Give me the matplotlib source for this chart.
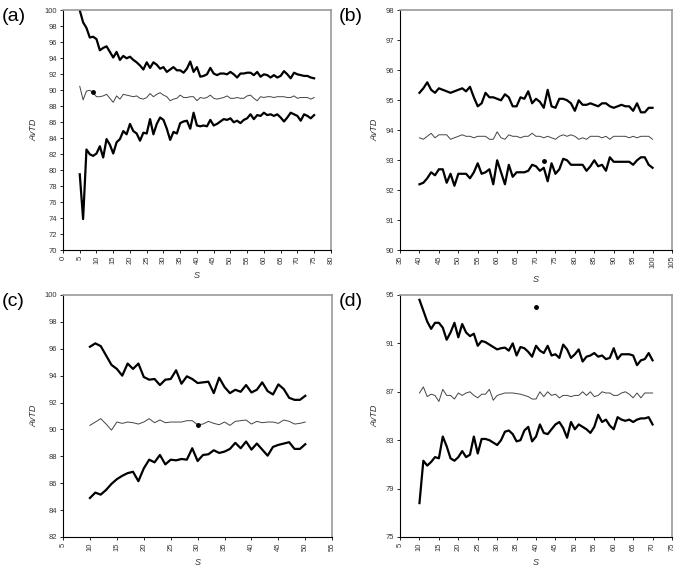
import matplotlib
matplotlib.use('Agg')
import matplotlib.pyplot as plt
import numpy as np

plt.rcParams['font.family'] = ['Liberation Sans', 'DejaVu Sans']

# panel (a)
s_a = np.arange(5, 76)
up_a = [100, 98.5, 97.8, 96.6, 96.7, 96.4, 95.0, 95.3, 95.5, 94.8, 94.1, 94.8, 93.8, 94.3, 94.0, 94.2,
        93.8, 93.5, 93.1, 92.6, 93.5, 92.8, 93.5, 93.2, 92.7, 92.9, 92.3, 92.6, 92.9, 92.5, 92.5, 92.2,
        92.7, 93.6, 92.3, 92.9, 91.7, 91.8, 92.0, 92.8, 92.1, 91.9, 92.1, 92.1, 92.0, 92.3, 92.0, 91.6,
        92.1, 92.1, 92.2, 92.2, 91.9, 92.3, 91.7, 92.0, 91.9, 91.6, 91.9, 91.6, 91.8, 92.4, 92.0, 91.5,
        92.2, 92.0, 91.9, 91.8, 91.8, 91.6, 91.5]
mid_a = [90.5, 88.8, 89.9, 90.0, 89.7, 89.2, 89.2, 89.3, 89.5, 89.0, 88.5, 89.3, 88.9, 89.5, 89.4, 89.3,
         89.2, 89.3, 89.0, 88.9, 89.1, 89.6, 89.2, 89.5, 89.7, 89.4, 89.2, 88.7, 88.9, 89.0, 89.4, 89.1,
         89.1, 89.2, 89.2, 88.7, 89.1, 89.0, 89.1, 89.4, 89.0, 88.9, 89.0, 89.1, 89.3, 89.0, 89.0, 89.1,
         89.0, 89.0, 89.3, 89.4, 89.0, 88.7, 89.2, 89.1, 89.2, 89.2, 89.1, 89.2, 89.2, 89.2, 89.1, 89.1,
         89.3, 89.0, 89.1, 89.1, 89.1, 88.9, 89.1]
low_a = [79.5, 73.9, 82.6, 82.0, 81.8, 82.1, 83.0, 81.6, 83.9, 83.2, 82.1, 83.5, 83.9, 84.9, 84.5, 85.8,
         84.9, 84.6, 83.7, 84.7, 84.6, 86.4, 84.5, 85.8, 86.6, 86.3, 85.2, 83.8, 84.8, 84.6, 85.9, 86.1,
         86.2, 85.2, 87.2, 85.6, 85.5, 85.6, 85.5, 86.3, 85.6, 85.8, 86.1, 86.4, 86.3, 86.5, 86.0, 86.2,
         85.9, 86.3, 86.5, 87.0, 86.4, 86.9, 86.8, 87.2, 86.9, 87.0, 86.8, 87.0, 86.6, 86.1, 86.6, 87.2,
         87.0, 86.8, 86.2, 87.0, 86.8, 86.5, 86.9]
dot_a = (9, 89.8)

# panel (b)
s_b = np.arange(40, 101)
up_b = [95.25, 95.4, 95.6, 95.35, 95.25, 95.4, 95.35, 95.3, 95.25, 95.3, 95.35, 95.4, 95.3, 95.45, 95.1,
        94.8, 94.9, 95.25, 95.1, 95.1, 95.05, 95.0, 95.2, 95.1, 94.8, 94.8, 95.1, 95.05, 95.3, 94.9, 95.05,
        94.95, 94.75, 95.35, 94.8, 94.75, 95.05, 95.05, 95.0, 94.9, 94.65, 95.0, 94.85, 94.85, 94.9, 94.85,
        94.8, 94.9, 94.9, 94.8, 94.75, 94.8, 94.85, 94.8, 94.8, 94.65, 94.9, 94.6, 94.6, 94.75, 94.75]
mid_b = [93.75, 93.7, 93.8, 93.9, 93.75, 93.85, 93.85, 93.85, 93.7, 93.75, 93.8, 93.85, 93.8, 93.8, 93.75,
         93.8, 93.8, 93.8, 93.7, 93.7, 93.95, 93.75, 93.7, 93.85, 93.8, 93.8, 93.75, 93.8, 93.8, 93.9, 93.8,
         93.8, 93.75, 93.8, 93.75, 93.7, 93.8, 93.85, 93.8, 93.85, 93.8, 93.7, 93.75, 93.7, 93.8, 93.8,
         93.8, 93.75, 93.8, 93.7, 93.8, 93.8, 93.8, 93.8, 93.75, 93.8, 93.75, 93.8, 93.8, 93.8, 93.7]
low_b = [92.2, 92.25, 92.4, 92.6, 92.5, 92.7, 92.7, 92.25, 92.55, 92.15, 92.55, 92.55, 92.55, 92.4, 92.6,
         92.9, 92.55, 92.6, 92.7, 92.2, 93.0, 92.6, 92.2, 92.85, 92.45, 92.6, 92.6, 92.6, 92.65, 92.85, 92.8,
         92.65, 92.75, 92.3, 92.9, 92.55, 92.7, 93.05, 93.0, 92.85, 92.85, 92.85, 92.85, 92.65, 92.8, 93.0,
         92.8, 92.85, 92.65, 93.1, 92.95, 92.95, 92.95, 92.95, 92.95, 92.85, 93.0, 93.1, 93.1, 92.85, 92.75]
dot_b = (72, 92.97)

# panel (c)
s_c = np.arange(10, 51)
up_c = [96.15, 96.4, 96.2, 95.5, 94.8, 94.5, 94.0, 94.9, 94.5, 94.9, 93.9, 93.7, 93.75, 93.3, 93.7, 93.75,
        94.4, 93.4, 93.95, 93.75, 93.45, 93.5, 93.55, 92.7, 93.85, 93.15, 92.7, 92.95, 92.8, 93.3, 92.75,
        92.95, 93.5, 92.85, 92.6, 93.35, 93.0, 92.35, 92.2, 92.2, 92.5]
mid_c = [90.3, 90.55, 90.8, 90.4, 89.95, 90.55, 90.45, 90.55, 90.5, 90.4, 90.55, 90.8, 90.5, 90.7, 90.5,
         90.55, 90.55, 90.55, 90.65, 90.65, 90.35, 90.4, 90.6, 90.45, 90.35, 90.55, 90.3, 90.6, 90.65, 90.7,
         90.4, 90.6, 90.5, 90.55, 90.55, 90.45, 90.7, 90.6, 90.4, 90.45, 90.55]
low_c = [84.9, 85.3, 85.15, 85.5, 85.95, 86.3, 86.55, 86.75, 86.85, 86.15, 87.1, 87.75, 87.55, 88.1, 87.4,
         87.75, 87.7, 87.8, 87.75, 88.6, 87.65, 88.1, 88.15, 88.45, 88.25, 88.35, 88.55, 89.0, 88.6, 89.1,
         88.5, 88.95, 88.5, 88.05, 88.7, 88.85, 88.95, 89.05, 88.55, 88.55, 88.9]
dot_c = (30, 90.35)

# panel (d)
s_d = np.arange(10, 71)
up_d = [94.6, 93.7, 92.8, 92.2, 92.7, 92.7, 92.3, 91.3, 91.9, 92.7, 91.5, 92.6, 91.9, 91.6, 91.8, 90.8,
        91.2, 91.1, 90.9, 90.7, 90.5, 90.6, 90.65, 90.4, 91.0, 90.0, 90.7, 90.6, 90.3, 89.9, 90.8, 90.4,
        90.2, 90.8, 90.0, 90.1, 89.8, 90.9, 90.5, 89.8, 90.1, 90.5, 89.5, 89.9, 90.0, 90.2, 89.9, 90.0,
        89.7, 89.8, 90.6, 89.7, 90.1, 90.1, 90.1, 90.0, 89.2, 89.6, 89.7, 90.2, 89.6]
mid_d = [86.9, 87.4, 86.6, 86.8, 86.7, 86.2, 87.2, 86.7, 86.7, 86.4, 86.9, 86.7, 86.9, 87.0, 86.7, 86.5,
         86.8, 86.8, 87.2, 86.3, 86.7, 86.8, 86.9, 86.9, 86.9, 86.85, 86.8, 86.7, 86.6, 86.4, 86.4, 87.0,
         86.6, 87.0, 86.7, 86.8, 86.5, 86.7, 86.7, 86.6, 86.7, 86.7, 87.0, 86.7, 87.0, 86.6, 86.7, 87.0,
         86.9, 86.9, 86.7, 86.7, 86.9, 87.0, 86.8, 86.5, 86.9, 86.5, 86.9, 86.9, 86.9]
low_d = [77.8, 81.3, 80.9, 81.2, 81.6, 81.5, 83.3, 82.5, 81.5, 81.3, 81.6, 82.1, 81.6, 81.8, 83.3, 81.9,
         83.1, 83.1, 83.0, 82.8, 82.6, 83.0, 83.7, 83.8, 83.5, 82.9, 83.0, 83.8, 84.1, 82.9, 83.3, 84.3,
         83.6, 83.5, 83.9, 84.3, 84.5, 84.0, 83.2, 84.5, 83.9, 84.3, 84.1, 83.9, 83.6, 84.1, 85.1, 84.5,
         84.7, 84.2, 83.9, 84.9, 84.7, 84.6, 84.7, 84.5, 84.7, 84.8, 84.8, 84.9, 84.3]
dot_d = (40, 94.0)

panels = [
    ('(a)', s_a, up_a, mid_a, low_a, dot_a, (0, 80, 5), (70, 100, 2), [0.092, 0.564, 0.391, 0.418]),
    ('(b)', s_b, up_b, mid_b, low_b, dot_b, (35, 105, 5), (90, 98, 1), [0.584, 0.564, 0.397, 0.418]),
    ('(c)', s_c, up_c, mid_c, low_c, dot_c, (5, 55, 5), (82, 100, 2), [0.092, 0.0645, 0.393, 0.4216]),
    ('(d)', s_d, up_d, mid_d, low_d, dot_d, (5, 75, 5), (75, 95, 4), [0.584, 0.0645, 0.397, 0.4216]),
]

fig = plt.figure(figsize=(6.85, 5.74), dpi=100)

for lab, s, up, mid, low, dot, xr, yr, pos in panels:
    ax = fig.add_axes(pos)
    ax.plot(s, up, color='black', lw=1.6)
    ax.plot(s, mid, color='#444444', lw=0.7)
    ax.plot(s, low, color='black', lw=1.6)
    ax.plot(dot[0], dot[1], 'o', color='black', ms=2.5)
    ax.set_xlim(xr[0], xr[1])
    ax.set_ylim(yr[0], yr[1])
    ax.set_xticks(np.arange(xr[0], xr[1] + 1, xr[2]))
    ax.set_yticks(np.arange(yr[0], yr[1] + 0.01, yr[2]))
    ax.tick_params(axis='x', labelsize=5.5, labelcolor='#333333', labelrotation=90, length=2, width=0.6, pad=2)
    ax.tick_params(axis='y', labelsize=5.5, labelcolor='#333333', length=2, width=0.6, pad=2)
    ax.spines['left'].set_linewidth(0.8)
    ax.spines['bottom'].set_linewidth(0.8)
    for sp in ['top', 'right']:
        ax.spines[sp].set_color('#999999')
        ax.spines[sp].set_linewidth(1.2)
    ax.set_xlabel('S', fontsize=6.5, style='italic', color='#333333', labelpad=5)
    ax.set_ylabel('AvTD', fontsize=6.5, style='italic', color='#333333', labelpad=5)
    fig.text(pos[0] - 0.09, pos[1] + pos[3] + 0.004, lab, fontsize=14, va='top', ha='left')

fig.savefig('out.png', dpi=100)
